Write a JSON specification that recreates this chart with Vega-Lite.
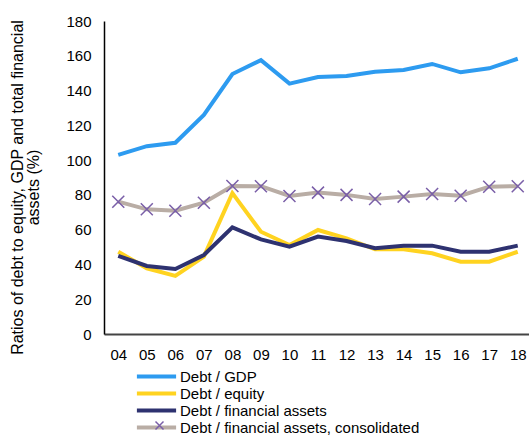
{
  "$schema": "https://vega.github.io/schema/vega-lite/v6.json",
  "autosize": "none",
  "width": 428,
  "height": 313,
  "padding": {"left": 104, "top": 21, "right": 0, "bottom": 103},
  "background": "white",
  "config": {
    "font": "Liberation Sans",
    "view": {"stroke": null}
  },
  "data": {
    "values": [
      {"year": "04", "series": "Debt / GDP", "value": 103},
      {"year": "05", "series": "Debt / GDP", "value": 108},
      {"year": "06", "series": "Debt / GDP", "value": 110},
      {"year": "07", "series": "Debt / GDP", "value": 126},
      {"year": "08", "series": "Debt / GDP", "value": 149.5},
      {"year": "09", "series": "Debt / GDP", "value": 157.5},
      {"year": "10", "series": "Debt / GDP", "value": 144},
      {"year": "11", "series": "Debt / GDP", "value": 147.8},
      {"year": "12", "series": "Debt / GDP", "value": 148.4},
      {"year": "13", "series": "Debt / GDP", "value": 150.8},
      {"year": "14", "series": "Debt / GDP", "value": 151.8},
      {"year": "15", "series": "Debt / GDP", "value": 155.3},
      {"year": "16", "series": "Debt / GDP", "value": 150.5},
      {"year": "17", "series": "Debt / GDP", "value": 152.8},
      {"year": "18", "series": "Debt / GDP", "value": 158.3},
      {"year": "04", "series": "Debt / equity", "value": 47.3},
      {"year": "05", "series": "Debt / equity", "value": 37.8},
      {"year": "06", "series": "Debt / equity", "value": 33.4},
      {"year": "07", "series": "Debt / equity", "value": 44.5},
      {"year": "08", "series": "Debt / equity", "value": 81},
      {"year": "09", "series": "Debt / equity", "value": 58.8},
      {"year": "10", "series": "Debt / equity", "value": 51.2},
      {"year": "11", "series": "Debt / equity", "value": 59.8},
      {"year": "12", "series": "Debt / equity", "value": 55},
      {"year": "13", "series": "Debt / equity", "value": 48.7},
      {"year": "14", "series": "Debt / equity", "value": 48.7},
      {"year": "15", "series": "Debt / equity", "value": 46.4},
      {"year": "16", "series": "Debt / equity", "value": 41.6},
      {"year": "17", "series": "Debt / equity", "value": 41.6},
      {"year": "18", "series": "Debt / equity", "value": 47.3},
      {"year": "04", "series": "Debt / financial assets", "value": 44.9},
      {"year": "05", "series": "Debt / financial assets", "value": 39.1},
      {"year": "06", "series": "Debt / financial assets", "value": 37.4},
      {"year": "07", "series": "Debt / financial assets", "value": 45.4},
      {"year": "08", "series": "Debt / financial assets", "value": 61.3},
      {"year": "09", "series": "Debt / financial assets", "value": 54.4},
      {"year": "10", "series": "Debt / financial assets", "value": 50.2},
      {"year": "11", "series": "Debt / financial assets", "value": 56},
      {"year": "12", "series": "Debt / financial assets", "value": 53.5},
      {"year": "13", "series": "Debt / financial assets", "value": 49.3},
      {"year": "14", "series": "Debt / financial assets", "value": 50.8},
      {"year": "15", "series": "Debt / financial assets", "value": 50.8},
      {"year": "16", "series": "Debt / financial assets", "value": 47.3},
      {"year": "17", "series": "Debt / financial assets", "value": 47.3},
      {"year": "18", "series": "Debt / financial assets", "value": 50.8},
      {"year": "04", "series": "Debt / financial assets, consolidated", "value": 76.1},
      {"year": "05", "series": "Debt / financial assets, consolidated", "value": 71.7},
      {"year": "06", "series": "Debt / financial assets, consolidated", "value": 70.9},
      {"year": "07", "series": "Debt / financial assets, consolidated", "value": 75.5},
      {"year": "08", "series": "Debt / financial assets, consolidated", "value": 85.1},
      {"year": "09", "series": "Debt / financial assets, consolidated", "value": 85},
      {"year": "10", "series": "Debt / financial assets, consolidated", "value": 79.4},
      {"year": "11", "series": "Debt / financial assets, consolidated", "value": 81.3},
      {"year": "12", "series": "Debt / financial assets, consolidated", "value": 80},
      {"year": "13", "series": "Debt / financial assets, consolidated", "value": 77.6},
      {"year": "14", "series": "Debt / financial assets, consolidated", "value": 79},
      {"year": "15", "series": "Debt / financial assets, consolidated", "value": 80.5},
      {"year": "16", "series": "Debt / financial assets, consolidated", "value": 79.5},
      {"year": "17", "series": "Debt / financial assets, consolidated", "value": 84.7},
      {"year": "18", "series": "Debt / financial assets, consolidated", "value": 85}
    ]
  },
  "encoding": {
    "x": {
      "field": "year", "type": "ordinal",
      "scale": {"type": "point", "padding": 0.5},
      "axis": {
        "title": null, "labelAngle": 0, "ticks": false, "grid": false,
        "labelFontSize": 15, "labelColor": "#000", "labelPadding": 13,
        "domainColor": "#444", "domainWidth": 2
      }
    },
    "y": {
      "field": "value", "type": "quantitative",
      "scale": {"domain": [0, 180], "nice": false},
      "axis": {
        "values": [0, 20, 40, 60, 80, 100, 120, 140, 160, 180],
        "title": ["Ratios of debt to equity, GDP and total financial", "assets (%)"],
        "titleFontSize": 16, "titleFontWeight": "normal", "titleColor": "#000",
        "titleLineHeight": 16, "titleAngle": -90, "titleAlign": "center", "titleBaseline": "top",
        "titleX": -95, "titleY": 166,
        "ticks": false, "grid": false,
        "labelFontSize": 15, "labelColor": "#000", "labelPadding": 13,
        "domainColor": "#000", "domainWidth": 1.5
      }
    }
  },
  "layer": [
    {
      "mark": {"type": "line", "strokeWidth": 4, "strokeJoin": "miter"},
      "encoding": {
        "color": {
          "field": "series", "type": "nominal",
          "scale": {
            "domain": ["Debt / GDP", "Debt / equity", "Debt / financial assets", "Debt / financial assets, consolidated"],
            "range": ["#2d9bf0", "#ffd320", "#2e3270", "#b9ada5"]
          },
          "legend": {
            "title": null, "orient": "none", "legendX": 45, "legendY": 348,
            "symbolType": "M-4.9,0H4.9", "symbolSize": 64, "symbolStrokeWidth": 4,
            "labelFontSize": 15, "labelColor": "#000", "labelOffset": 16,
            "rowPadding": 0, "labelLimit": 400
          }
        }
      }
    },
    {
      "transform": [{"filter": "datum.series == 'Debt / financial assets, consolidated'"}],
      "mark": {"type": "point", "filled": false, "size": 144, "strokeWidth": 1.5, "color": "#7a5fa8", "opacity": 1},
      "encoding": {
        "shape": {
          "field": "series", "type": "nominal",
          "scale": {"domain": ["Debt / financial assets, consolidated"], "range": ["M-1,-1L1,1M-1,1L1,-1"]},
          "legend": {
            "title": null, "orient": "none", "legendX": 48, "legendY": 397,
            "symbolSize": 64, "symbolStrokeWidth": 1.5, "symbolStrokeColor": "#7a5fa8",
            "labelExpr": "''", "labelFontSize": 15
          }
        }
      }
    }
  ]
}
